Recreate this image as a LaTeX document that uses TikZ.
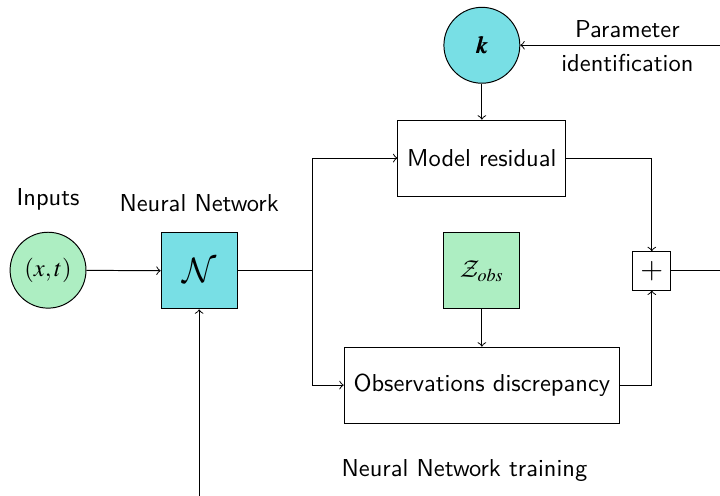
\documentclass[tikz,border=0pt]{standalone}
\usepackage{mathptmx}
\usepackage{bm}
\DeclareMathAlphabet{\mathcal}{OMS}{cmsy}{m}{n}
\definecolor{nncyan}{RGB}{120,223,229}
\definecolor{obsgreen}{RGB}{173,238,194}
\tikzset{
  block/.style={draw, rectangle, minimum height=1.09cm, inner xsep=3.8pt, font=\sffamily},
  sqbox/.style={draw, rectangle, minimum size=1.09cm},
  roundbox/.style={draw, circle, minimum size=1.09cm, inner sep=0pt},
  label/.style={font=\sffamily},
}
\begin{document}
\begin{tikzpicture}[>=to]
        \useasboundingbox (0,0) rectangle (10.34,-7.12);
        % nodes
        \node[roundbox, fill=obsgreen] (inputs) at (0.69,-3.88) {$(x,t)$};
        \node[label] (inputslbl) at (0.69,-2.86) {Inputs};
        \node[sqbox, fill=nncyan] (nn) at (2.86,-3.89) {\Large $\mathcal{N}$};
        \node[label] (nnlbl) at (2.86,-2.92) {Neural Network};
        \node[roundbox, fill=nncyan] (k) at (6.92,-0.65) {$\bm{k}$};
        \node[label, align=center] (paramlbl) at (9.01,-0.66) {Parameter\\[2pt]identification};
        \node[block] (model) at (6.92,-2.27) {Model residual};
        \node[sqbox, fill=obsgreen] (zobs) at (6.92,-3.89) {$\mathcal{Z}_{obs}$};
        \node[block] (obs) at (6.92,-5.53) {Observations discrepancy};
        \node[draw, rectangle, minimum size=0.55cm, inner sep=0pt] (plus) at (9.36,-3.89) {\large $+$};
        \node[label] (trainlbl) at (6.67,-6.75) {Neural Network training};
        \coordinate (split) at (4.49,-3.89);
        \coordinate (kin) at (10.34,-0.65);
        \coordinate (out) at (10.34,-3.89);
        \coordinate (train) at (2.86,-7.12);

        % connectors
        \draw[->] (inputs) -- (nn);
        \draw (nn) -- (split);
        \draw[->] (split) |- (model.west);
        \draw[->] (split) |- (obs.west);
        \draw[->] (kin) -- (k);
        \draw[->] (k) -- (model);
        \draw[->] (zobs) -- (obs);
        \draw[->] (model.east) -| (plus.north);
        \draw[->] (obs.east) -| (plus.south);
        \draw (plus) -- (out);
        \draw[->] (train) -- (nn);

      \end{tikzpicture}
\end{document}
